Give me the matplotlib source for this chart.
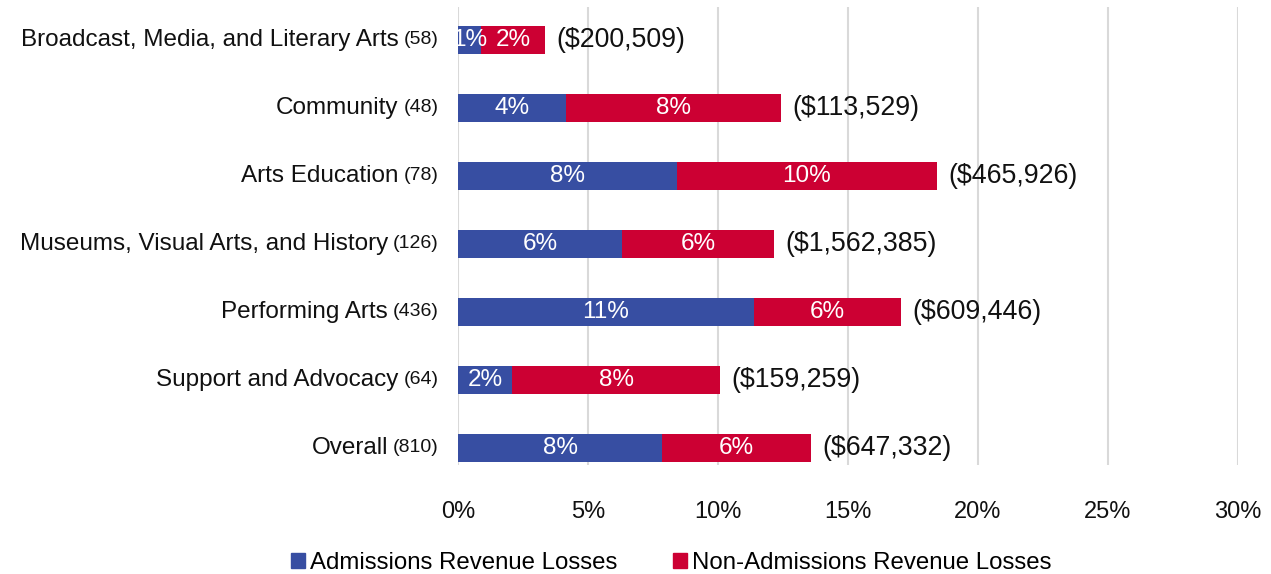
import matplotlib
matplotlib.use("Agg")
import matplotlib.pyplot as plt
from matplotlib.patches import Patch

plt.rcParams['font.family'] = ['Liberation Sans', 'DejaVu Sans']

categories = ["Broadcast, Media, and Literary Arts", "Community", "Arts Education",
              "Museums, Visual Arts, and History", "Performing Arts",
              "Support and Advocacy", "Overall"]
counts = [58, 48, 78, 126, 436, 64, 810]
admissions = [0.88, 4.15, 8.42, 6.31, 11.38, 2.08, 7.85]
non_admissions = [2.47, 8.27, 10.0, 5.85, 5.65, 8.0, 5.73]
dollar_labels = ["($200,509)", "($113,529)", "($465,926)", "($1,562,385)",
                 "($609,446)", "($159,259)", "($647,332)"]
xticks = [0, 5, 10, 15, 20, 25, 30]
series_names = ["Admissions Revenue Losses", "Non-Admissions Revenue Losses"]

BLUE = "#374EA2"
RED = "#CC0033"

fig = plt.figure(figsize=(12.71, 5.74), dpi=100)
ax = fig.add_axes([458/1271, 1-465/574, 780/1271, (465-7)/574])

y = list(range(len(categories)))
b1 = ax.barh(y, admissions, height=0.4, color=BLUE, zorder=3)
b2 = ax.barh(y, non_admissions, left=admissions, height=0.4, color=RED, zorder=3)

ax.bar_label(b1, labels=[f"{round(v)}%" for v in admissions], label_type='center',
             color='white', fontsize=17.5)
ax.bar_label(b2, labels=[f"{round(v)}%" for v in non_admissions], label_type='center',
             color='white', fontsize=17.5)

for i, (a, n, lab) in enumerate(zip(admissions, non_admissions, dollar_labels)):
    ax.annotate(lab, xy=(a + n, i), xytext=(8, 0), textcoords='offset points',
                ha='left', va='center', fontsize=19.3, color='#111111')

for i, (name, c) in enumerate(zip(categories, counts)):
    ct = ax.annotate(f"({c})", xy=(0, i), xycoords=('axes fraction', 'data'),
                     xytext=(-14, 0), textcoords='offset points',
                     ha='right', va='center', fontsize=14, color='#111111')
    ax.annotate(name, xy=(0, 0.5), xycoords=ct, xytext=(-3.5, 0),
                textcoords='offset points', ha='right', va='center',
                fontsize=17.5, color='#111111')

ax.set_xlim(0, 30)
ax.set_ylim(len(categories) - 1 + 0.25, -0.485)
ax.set_xticks(xticks)
ax.set_xticklabels([f"{v}%" for v in xticks], fontsize=17, color='#111111')
ax.tick_params(axis='x', length=0, pad=26)
ax.set_yticks([])
for s in ax.spines.values():
    s.set_visible(False)
ax.grid(axis='x', color='#D9D9D9', linewidth=1.5, zorder=0)
ax.set_axisbelow(True)

handles = [Patch(color=BLUE), Patch(color=RED)]
fig.legend(handles, series_names, loc='lower center', bbox_to_anchor=(0.528, -0.021),
           ncol=2, frameon=False, fontsize=17.3, handlelength=0.6, handleheight=0.6,
           handletextpad=0.2, columnspacing=2.3, borderpad=0)

fig.savefig("out.png", dpi=100)
